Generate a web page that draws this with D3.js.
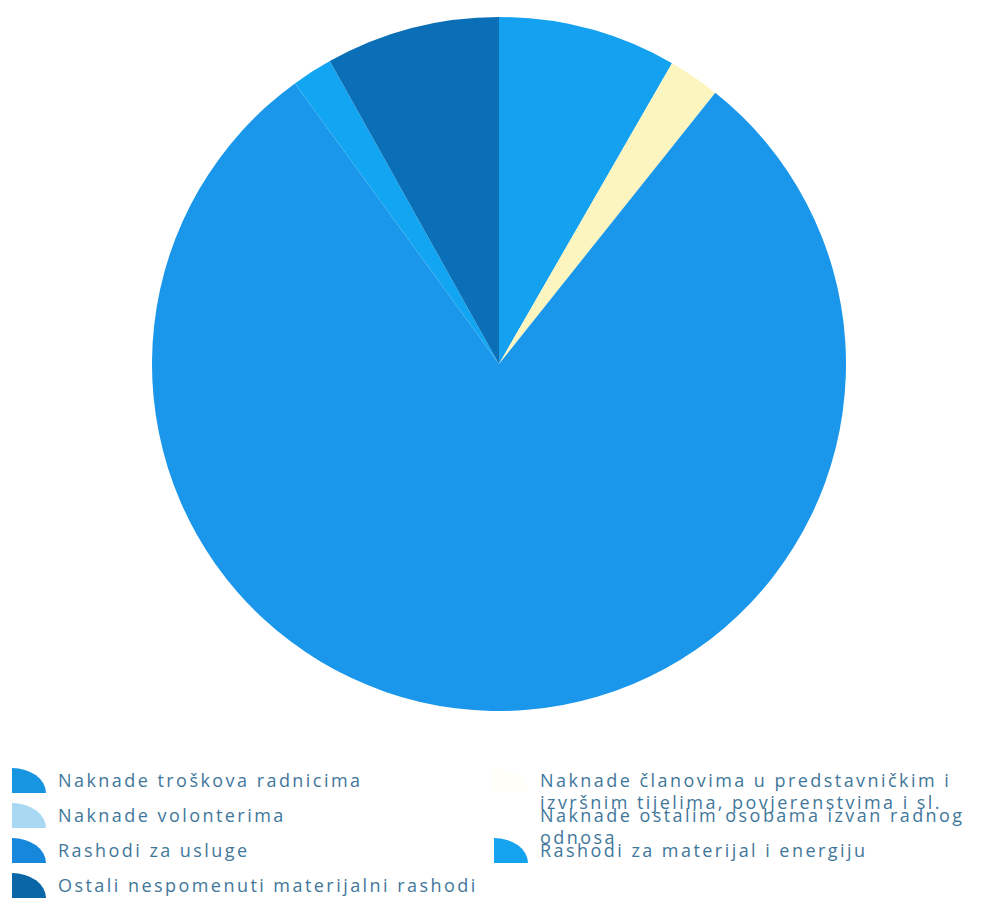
<!DOCTYPE html>
<html>
<head>
<meta charset="utf-8">
<script src="https://cdn.jsdelivr.net/npm/d3@7"></script>
<style>
  body { margin: 0; background: #fff; }
  .legendText { font-family: "Open Sans", sans-serif; font-size: 18px; fill: #41779a; letter-spacing: 2.45px; }
</style>
</head>
<body>
<div id="chart"></div>
<script>
const width = 984;
const height = 899;

const categories = [
  "Naknade troškova radnicima",
  "Naknade članovima u predstavničkim i izvršnim tijelima, povjerenstvima i sl.",
  "Naknade volonterima",
  "Naknade ostalim osobama izvan radnog odnosa",
  "Rashodi za usluge",
  "Rashodi za materijal i energiju",
  "Ostali nespomenuti materijalni rashodi"
];
const values = [8.3, 2.4, 0, 0, 79.2, 1.9, 8.1];
const sliceColors = ["#13a1f0", "#fdf5c0", "#a9d9f2", "#ffffff", "#1a97ea", "#12a6f2", "#0a6fb6"];
const iconColors = ["#1895e0", "#fffef8", "#a9d9f2", "#ffffff", "#1787dc", "#14a3ee", "#0a66a6"];

const cx = 499;
const cy = 364;
const radius = 347;

const svg = d3
  .select("#chart")
  .append("svg")
  .attr("width", width)
  .attr("height", height);

const pie = d3.pie().sort(null).value((d) => d);
const arc = d3.arc().innerRadius(0).outerRadius(radius);

svg
  .append("g")
  .attr("transform", `translate(${cx},${cy})`)
  .selectAll("path")
  .data(pie(values))
  .join("path")
  .attr("d", arc)
  .attr("fill", (d, i) => sliceColors[i]);

// Legend: two columns, row-major
const colX = [12, 494];
const textOffset = 46;
const rowTop = 768;
const rowStep = 35;
const iconW = 34;
const iconH = 25;
const wrapWidth = 445;

const legend = svg
  .append("g")
  .selectAll("g")
  .data(categories)
  .join("g")
  .attr("transform", (d, i) => `translate(${colX[i % 2]},${rowTop + Math.floor(i / 2) * rowStep})`);

legend
  .append("path")
  .attr("d", `M0,${iconH} L0,0 A${iconW},${iconH} 0 0 1 ${iconW},${iconH} Z`)
  .attr("fill", (d, i) => iconColors[i]);

legend
  .append("text")
  .attr("class", "legendText")
  .attr("x", textOffset)
  .attr("y", iconH / 2)
  .attr("dy", "0.35em")
  .each(function (d) {
    const text = d3.select(this);
    const words = d.split(" ");
    let line = [];
    let tspan = text.append("tspan").attr("x", textOffset);
    words.forEach((w) => {
      line.push(w);
      tspan.text(line.join(" "));
      if (tspan.node().getComputedTextLength() > wrapWidth && line.length > 1) {
        line.pop();
        tspan.text(line.join(" "));
        line = [w];
        tspan = text
          .append("tspan")
          .attr("x", textOffset)
          .attr("dy", 22)
          .text(w);
      }
    });
  });
</script>
</body>
</html>
